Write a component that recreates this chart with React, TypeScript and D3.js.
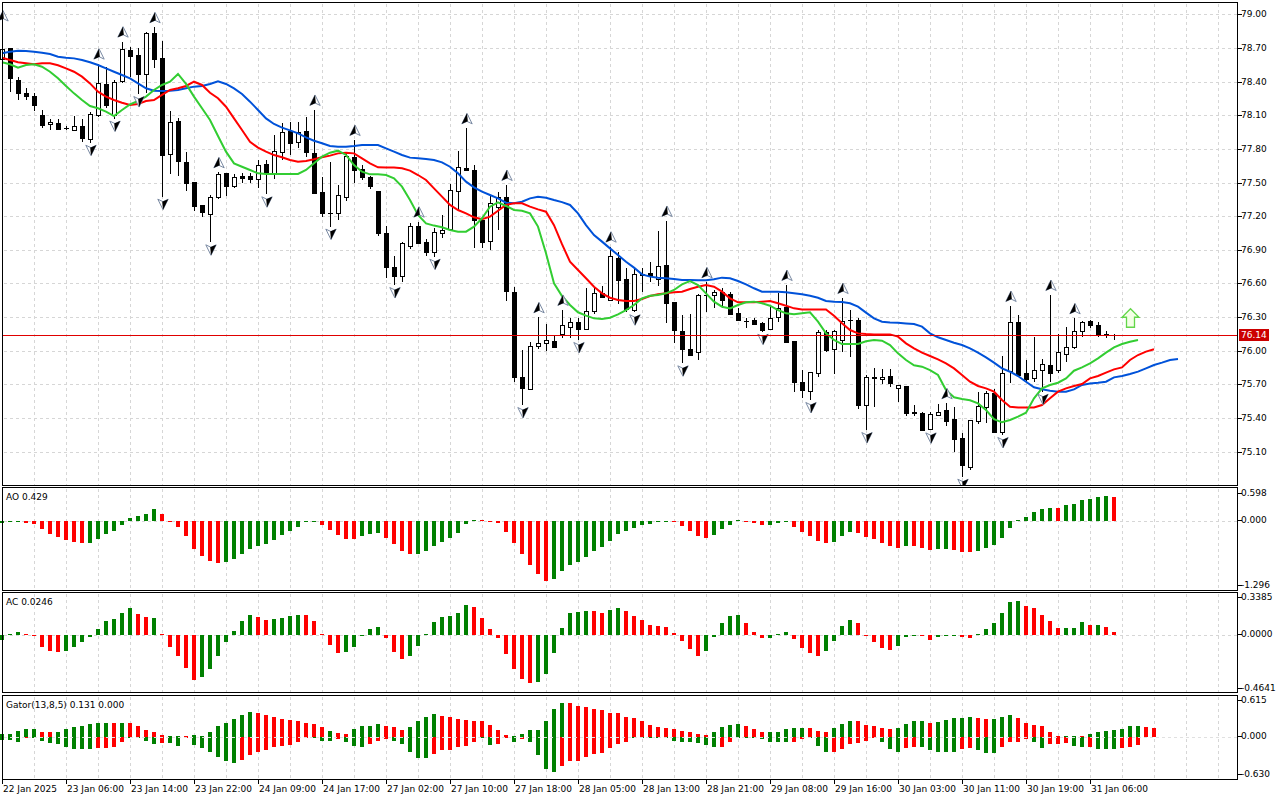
import React from "react";
import * as d3 from "d3";

// ---------- price data (H1 candles) ----------
const opens = [
  78.60,78.70,78.41,78.30,78.27,78.10,78.02,78.03,77.99,77.96,
  78.00,77.89,78.10,78.376,78.096,78.399,78.682,78.637,78.474,78.836,
  78.608,77.752,78.049,77.68,77.502,77.30,77.219,77.368,77.582,77.463,
  77.558,77.558,77.529,77.665,77.582,77.775,77.962,77.858,77.960,77.766,
  77.413,77.231,77.225,77.374,77.731,77.618,77.546,77.425,77.047,76.744,
  76.670,76.937,77.116,76.967,76.875,77.053,77.083,77.419,77.627,77.612,
  77.166,76.982,77.285,77.368,76.521,75.763,75.665,76.036,76.072,76.087,
  76.147,76.209,76.259,76.200,76.348,76.512,76.453,76.830,76.637,76.363,
  76.681,76.690,76.640,76.765,76.432,76.176,76.016,75.986,76.500,76.491,
  76.527,76.503,76.334,76.265,76.274,76.244,76.191,76.298,76.393,76.090,
  75.718,75.635,75.808,76.164,76.013,76.090,76.274,76.274,75.516,75.763,
  75.745,75.775,75.665,75.686,75.451,75.448,75.299,75.433,75.472,75.388,
  75.219,74.966,75.377,75.495,75.626,75.270,75.814,76.253,75.799,75.754,
  75.822,75.873,75.828,75.971,76.030,76.176,76.265,76.230,76.146,76.131,
];
const highs = [
  78.90,78.70,78.44,78.34,78.30,78.15,78.07,78.07,78.00,78.09,
  78.07,78.13,78.56,78.533,78.414,78.756,78.711,78.697,78.845,78.884,
  78.765,78.138,78.073,77.775,77.507,77.30,77.389,77.591,77.588,77.576,
  77.582,77.582,77.70,77.70,77.924,78.03,78.043,78.043,78.087,78.147,
  77.552,77.686,77.478,77.775,77.879,77.656,77.558,77.425,77.113,76.845,
  76.973,77.136,77.151,76.994,77.092,77.211,77.487,77.784,77.983,77.656,
  77.181,77.389,77.413,77.478,76.566,76.007,76.081,76.298,76.236,76.132,
  76.364,76.289,76.289,76.557,76.557,76.580,76.928,76.878,76.735,76.750,
  76.735,76.794,77.068,77.157,76.438,76.319,76.325,76.503,76.610,76.542,
  76.557,76.527,76.384,76.295,76.289,76.259,76.399,76.512,76.586,76.090,
  75.828,75.808,76.185,76.185,76.185,76.47,76.363,76.289,75.784,75.843,
  75.840,75.837,75.695,75.686,75.516,75.457,75.457,75.525,75.531,75.501,
  75.264,75.383,75.635,75.644,75.656,75.953,76.399,76.319,75.917,76.126,
  75.923,76.497,76.146,76.209,76.289,76.268,76.274,76.259,76.179,76.146,
];
const lows = [
  78.58,78.31,78.24,78.24,78.14,77.99,77.968,77.975,77.97,77.96,
  77.86,77.855,78.08,78.162,78.07,78.39,78.444,78.289,78.30,78.518,
  77.374,77.576,77.561,77.427,77.249,77.19,76.967,77.350,77.382,77.454,
  77.498,77.498,77.454,77.395,77.531,77.70,77.746,77.805,77.731,77.398,
  77.190,77.107,77.166,77.338,77.499,77.523,77.439,77.023,76.652,76.586,
  76.610,76.907,76.952,76.848,76.839,77.003,77.077,77.255,77.60,76.913,
  76.913,76.898,77.077,76.447,75.724,75.516,75.665,76.013,76.001,76.022,
  76.111,76.117,76.096,76.185,76.325,76.468,76.453,76.414,76.348,76.343,
  76.527,76.610,76.580,76.245,76.066,75.888,75.956,75.918,76.343,76.378,
  76.378,76.328,76.268,76.200,76.230,76.170,76.185,76.259,76.081,75.629,
  75.582,75.561,75.769,75.992,75.793,75.992,75.947,75.478,75.293,75.501,
  75.700,75.680,75.546,75.418,75.418,75.299,75.290,75.427,75.329,75.100,
  74.877,74.937,75.347,75.359,75.270,75.249,75.709,75.784,75.724,75.724,
  75.635,75.724,75.799,75.903,76.013,76.126,76.200,76.126,76.111,76.096,
];
const closes = [
  78.69,78.43,78.29,78.27,78.19,78.01,78.04,77.98,77.98,78.00,
  77.89,78.11,78.385,78.185,78.394,78.688,78.631,78.468,78.836,78.601,
  77.739,78.037,77.692,77.493,77.284,77.234,77.368,77.576,77.469,77.547,
  77.543,77.534,77.657,77.588,77.784,77.955,77.855,77.948,77.775,77.413,
  77.225,77.225,77.389,77.737,77.612,77.546,77.469,77.047,76.741,76.667,
  76.964,77.116,76.967,76.875,77.056,77.077,77.433,77.636,77.612,77.166,
  76.973,77.321,77.374,76.527,75.760,75.665,76.046,76.066,76.096,76.036,
  76.230,76.253,76.200,76.357,76.512,76.476,76.845,76.637,76.369,76.684,
  76.670,76.661,76.756,76.429,76.179,76.016,75.962,76.497,76.494,76.521,
  76.453,76.328,76.268,76.259,76.238,76.179,76.289,76.378,76.081,75.724,
  75.650,75.808,76.170,76.001,76.176,76.262,76.268,75.516,75.769,75.751,
  75.763,75.715,75.695,75.448,75.439,75.299,75.436,75.457,75.377,75.210,
  74.975,75.383,75.507,75.620,75.278,75.799,76.253,75.784,75.745,75.828,
  75.879,75.805,75.986,76.030,76.176,76.253,76.230,76.149,76.134,76.14,
];

// ---------- Alligator (already shifted forward: jaw 8, teeth 5, lips 3) ----------
const jaw = [
  78.652,78.667,78.676,78.673,78.667,78.658,78.646,78.622,78.613,78.607,
  78.593,78.572,78.548,78.518,78.488,78.459,78.429,78.384,78.340,78.319,
  78.316,78.319,78.325,78.340,78.355,78.361,78.379,78.402,78.379,78.340,
  78.289,78.221,78.147,78.072,78.022,77.990,77.965,77.939,77.903,77.873,
  77.850,77.826,77.820,77.820,77.826,77.835,77.835,77.835,77.805,77.775,
  77.746,77.722,77.716,77.710,77.701,77.680,77.641,77.582,77.508,77.457,
  77.419,77.389,77.359,77.320,77.315,77.329,77.359,77.374,77.365,77.344,
  77.325,77.300,77.225,77.121,77.032,76.973,76.913,76.854,76.794,76.741,
  76.681,76.661,76.652,76.646,76.640,76.631,76.631,76.628,76.628,76.637,
  76.652,76.646,76.622,76.592,76.557,76.527,76.527,76.527,76.521,76.512,
  76.503,76.491,76.473,76.444,76.438,76.435,76.423,76.393,76.340,76.289,
  76.259,76.253,76.250,76.244,76.238,76.215,76.155,76.120,76.096,76.072,
  76.051,76.022,75.983,75.941,75.894,75.843,75.813,75.775,75.724,75.674,
  75.656,75.644,75.635,75.635,75.656,75.695,75.709,75.715,75.724,75.763,
  75.775,75.793,75.814,75.843,75.873,75.894,75.918,75.927,
];
const teeth = [
  78.613,78.593,78.572,78.563,78.554,78.563,78.563,78.545,78.518,78.488,
  78.444,78.384,78.310,78.266,78.236,78.212,78.191,78.200,78.227,78.236,
  78.281,78.325,78.340,78.361,78.399,78.370,78.301,78.251,78.176,78.072,
  77.968,77.864,77.811,77.775,77.745,77.725,77.701,77.686,77.692,77.707,
  77.725,77.740,77.760,77.766,77.760,77.716,77.671,77.636,77.633,77.633,
  77.627,77.606,77.567,77.523,77.448,77.374,77.300,77.255,77.225,77.190,
  77.172,77.196,77.249,77.300,77.315,77.315,77.285,77.261,77.240,77.120,
  76.950,76.794,76.720,76.646,76.571,76.512,76.473,76.453,76.444,76.444,
  76.462,76.488,76.503,76.512,76.521,76.527,76.551,76.571,76.586,76.571,
  76.527,76.467,76.432,76.432,76.432,76.438,76.444,76.423,76.402,76.378,
  76.369,76.369,76.369,76.369,76.313,76.245,76.185,76.155,76.149,76.146,
  76.146,76.146,76.126,76.066,76.022,75.983,75.953,75.923,75.888,75.843,
  75.784,75.724,75.686,75.665,75.635,75.561,75.501,75.495,75.495,75.495,
  75.516,75.576,75.635,75.665,75.686,75.704,75.754,75.775,75.805,75.834,
  75.852,75.918,75.962,75.992,76.013,
];
const lips = [
  78.572,78.554,78.524,78.548,78.554,78.533,78.488,78.429,78.361,78.295,
  78.236,78.182,78.162,78.132,78.093,78.147,78.197,78.227,78.266,78.325,
  78.370,78.399,78.468,78.379,78.266,78.162,78.058,77.915,77.775,77.671,
  77.641,77.612,77.582,77.576,77.576,77.576,77.576,77.576,77.612,77.671,
  77.731,77.766,77.784,77.746,77.656,77.597,77.573,77.573,77.567,77.537,
  77.463,77.344,77.211,77.136,77.116,77.101,77.077,77.062,77.062,77.107,
  77.181,77.285,77.323,77.291,77.255,77.249,77.225,77.107,76.869,76.601,
  76.488,76.408,76.343,76.313,76.289,76.283,76.295,76.325,76.363,76.408,
  76.467,76.491,76.497,76.512,76.542,76.592,76.622,76.586,76.512,76.438,
  76.393,76.378,76.408,76.432,76.438,76.423,76.402,76.363,76.334,76.325,
  76.334,76.343,76.259,76.155,76.096,76.060,76.060,76.060,76.084,76.096,
  76.090,76.051,75.977,75.917,75.870,75.858,75.828,75.784,75.650,75.585,
  75.570,75.558,75.531,75.472,75.391,75.362,75.383,75.412,75.448,75.576,
  75.665,75.695,75.715,75.754,75.822,75.852,75.888,75.932,75.983,76.030,
  76.060,76.081,76.096,
];

// ---------- Fractals (bar indices) and signal ----------
const fractalUp = [0,12,15,19,27,39,44,52,58,63,67,70,76,83,88,98,105,118,126,131,134];
const fractalDown = [11,14,17,20,26,33,41,49,54,65,72,79,85,95,101,108,116,120,125,130];
const buySignalBar = [141];
const buySignalPrice = [76.29];
const lastPrice = 76.14;

// ---------- Awesome Oscillator ----------
const aoValues = [
  -0.04,-0.03,-0.02,-0.045,-0.06,-0.16,-0.25,-0.31,-0.37,-0.40,
  -0.42,-0.42,-0.35,-0.25,-0.20,-0.08,0.04,0.08,0.125,0.22,
  0.125,-0.005,-0.13,-0.30,-0.54,-0.68,-0.77,-0.80,-0.79,-0.73,
  -0.63,-0.54,-0.49,-0.44,-0.36,-0.28,-0.19,-0.12,-0.03,-0.02,
  -0.08,-0.17,-0.27,-0.34,-0.35,-0.30,-0.25,-0.23,-0.33,-0.45,
  -0.58,-0.63,-0.63,-0.58,-0.49,-0.40,-0.33,-0.23,-0.06,0.02,
  0.02,-0.003,-0.045,-0.215,-0.42,-0.63,-0.85,-1.01,-1.15,-1.11,
  -0.96,-0.85,-0.78,-0.69,-0.58,-0.505,-0.39,-0.25,-0.20,-0.15,
  -0.09,-0.06,-0.03,-0.015,-0.02,-0.11,-0.19,-0.30,-0.33,-0.28,
  -0.16,-0.09,0.01,-0.02,-0.045,-0.09,-0.09,-0.045,-0.03,-0.12,
  -0.215,-0.30,-0.39,-0.42,-0.40,-0.30,-0.215,-0.23,-0.315,-0.35,
  -0.42,-0.49,-0.52,-0.49,-0.49,-0.52,-0.55,-0.54,-0.54,-0.55,
  -0.595,-0.595,-0.57,-0.52,-0.46,-0.33,-0.14,0.005,0.06,0.16,
  0.21,0.23,0.23,0.29,0.31,0.385,0.40,0.44,0.46,0.45,
];
const aoDirs = "GGGRRRRRRR RGGGGGGGGG RRRRRRRRGG GGGGGGGGGG RRRRRGGGRR RRGGGGGGGG RRRRRRRRRG GGGGGGGGGG GGGGRRRRRG GGGRRRGGGR RRRRGGGRRR RRRGRRRGGR RRGGGGGGGG GGRGGGGGGR";

// ---------- Accelerator Oscillator ----------
const acValues = [
  -0.04,0.01,0.02,0.01,-0.005,-0.10,-0.135,-0.143,-0.135,-0.10,
  -0.062,-0.02,0.05,0.11,0.13,0.18,0.22,0.17,0.14,0.138,
  0.01,-0.10,-0.175,-0.27,-0.365,-0.34,-0.28,-0.175,-0.06,0.03,
  0.11,0.16,0.146,0.12,0.13,0.138,0.154,0.16,0.16,0.11,
  0.01,-0.08,-0.15,-0.143,-0.10,0.0,0.046,0.065,-0.03,-0.143,
  -0.197,-0.176,-0.095,0.01,0.10,0.146,0.154,0.18,0.243,0.227,
  0.138,0.046,-0.03,-0.157,-0.278,-0.36,-0.395,-0.386,-0.32,-0.15,
  0.054,0.18,0.186,0.195,0.19,0.18,0.203,0.216,0.195,0.154,
  0.12,0.078,0.073,0.065,0.016,-0.054,-0.116,-0.17,-0.13,-0.02,
  0.092,0.154,0.16,0.092,0.019,-0.03,-0.03,0.01,0.024,-0.035,
  -0.11,-0.15,-0.17,-0.135,-0.05,0.073,0.12,0.092,-0.014,-0.062,
  -0.11,-0.12,-0.09,-0.02,-0.003,-0.014,-0.04,-0.02,-0.003,-0.003,
  -0.02,-0.03,0.005,0.046,0.092,0.173,0.268,0.276,0.235,0.216,
  0.162,0.114,0.054,0.054,0.054,0.10,0.081,0.081,0.065,0.0246,
];
const acDirs = "GGGRRRRRGG GGGGGGGRRG RRRRRGGGGG GGRRGGGGRR RRRGGGGGRR RGGGGGGGGR RRRRRRRGGG GGGGRRGGRR RRRRRRRRGG GGGRRRGGGR RRRGGGGRRR RRGGGRRGGG RRGGGGGGRR RRRGGGRGRR";

// ---------- Gator Oscillator ----------
const gatorUpper = [
  0.040,0.040,0.091,0.111,0.121,0.076,0.061,0.076,0.111,0.142,
  0.167,0.192,0.212,0.212,0.212,0.212,0.212,0.167,0.101,0.076,
  0.025,0.015,0.015,0.015,0.025,0.005,0.076,0.167,0.212,0.268,
  0.329,0.379,0.364,0.329,0.293,0.268,0.253,0.228,0.212,0.187,
  0.142,0.091,0.051,0.040,0.111,0.152,0.152,0.187,0.162,0.142,
  0.101,0.142,0.228,0.303,0.344,0.314,0.293,0.263,0.253,0.243,
  0.238,0.182,0.101,0.025,0.010,0.040,0.101,0.101,0.243,0.415,
  0.516,0.516,0.470,0.445,0.415,0.395,0.364,0.354,0.303,0.278,
  0.228,0.177,0.142,0.126,0.111,0.086,0.061,0.040,0.025,0.061,
  0.142,0.177,0.192,0.152,0.111,0.061,0.061,0.076,0.111,0.126,
  0.126,0.126,0.091,0.076,0.126,0.192,0.243,0.228,0.177,0.167,
  0.126,0.111,0.126,0.192,0.228,0.243,0.212,0.218,0.253,0.278,
  0.278,0.293,0.278,0.263,0.263,0.303,0.319,0.278,0.212,0.177,
  0.152,0.061,0.010,0.015,0.015,0.003,0.040,0.061,0.086,0.101,
  0.116,0.152,0.152,0.145,0.131,
];
const gatorUpperDirs = "GGGGGRRGGG GGGGRGRRRR RGGRGGGGGG GGRRRRRRRR RGRRGGGGRR RGGGGRRRRR RRRRGGGGGG GRRRRRRRRR RRRRRRRRRG GGGRRRGGGG GRRRGGGRRR RRGGGGRGGG GGRRGGGRRR RRRGGRGGGG GGGRR";
const gatorLower = [
  -0.051,-0.051,-0.076,-0.010,-0.005,-0.061,-0.101,-0.116,-0.162,-0.192,
  -0.192,-0.192,-0.177,-0.177,-0.162,-0.086,-0.010,-0.010,-0.061,-0.116,
  -0.101,-0.101,-0.142,-0.025,-0.126,-0.177,-0.238,-0.314,-0.379,-0.405,
  -0.354,-0.278,-0.238,-0.202,-0.152,-0.142,-0.126,-0.091,-0.025,-0.025,
  -0.061,-0.061,-0.040,-0.076,-0.142,-0.152,-0.116,-0.061,-0.040,-0.061,
  -0.111,-0.238,-0.329,-0.329,-0.268,-0.212,-0.202,-0.152,-0.142,-0.076,
  -0.025,-0.126,-0.116,-0.025,-0.076,-0.035,-0.076,-0.278,-0.496,-0.541,
  -0.445,-0.379,-0.379,-0.314,-0.268,-0.253,-0.177,-0.111,-0.086,-0.025,
  -0.025,-0.005,-0.005,-0.025,-0.061,-0.091,-0.091,-0.105,-0.126,-0.162,
  -0.152,-0.076,-0.010,-0.005,-0.005,-0.035,-0.076,-0.091,-0.091,-0.076,
  -0.040,-0.025,-0.137,-0.238,-0.228,-0.187,-0.116,-0.101,-0.061,-0.025,
  -0.086,-0.192,-0.228,-0.177,-0.162,-0.162,-0.202,-0.228,-0.238,-0.238,
  -0.192,-0.177,-0.202,-0.253,-0.253,-0.162,-0.086,-0.076,-0.040,-0.086,
  -0.177,-0.116,-0.116,-0.101,-0.142,-0.162,-0.152,-0.187,-0.187,-0.192,
  -0.177,-0.152,-0.126,
];
const gatorLowerDirs = "GGGRGGGGGG GGRRRRGGGG RGGRGGGGGG RRRRRRRRRG GGRGGGRRRG GGGGRRRRRR GGRRGRGGGG RRRRRRRRRG GGGGGGGGGG RRGGGGGGGR RGGGRRRRRR GGGRRGGGGG RRGGGRRRRG GRRRGGRGGG RRR";

// ---------- axes ----------
const priceTicks = [79.0,78.7,78.4,78.1,77.8,77.5,77.2,76.9,76.6,76.3,76.0,75.7,75.4,75.1];
const timeLabels = [
  "22 Jan 2025","23 Jan 06:00","23 Jan 14:00","23 Jan 22:00","24 Jan 09:00","24 Jan 17:00",
  "27 Jan 02:00","27 Jan 10:00","27 Jan 18:00","28 Jan 05:00","28 Jan 13:00","28 Jan 21:00",
  "29 Jan 08:00","29 Jan 16:00","30 Jan 03:00","30 Jan 11:00","30 Jan 19:00","31 Jan 06:00",
];
const aoAxis = [0.598, 0.0, -1.296];
const aoAxisText = ["0.598", "0.000", "-1.296"];
const acAxis = [0.3385, 0.0, -0.4641];
const acAxisText = ["0.3385", "0.0000", "-0.4641"];
const gatorAxis = [0.615, 0.0, -0.63];
const gatorAxisText = ["0.615", "0.000", "-0.630"];
const panelTitles = ["AO 0.429", "AC 0.0246", "Gator(13,8,5) 0.131 0.000"];

const FONT = "'DejaVu Sans', Verdana, sans-serif";
const GRID = "#d6d6d6";
const UPC = "#008000";
const DNC = "#ff0000";

function dirs(s: string) {
  return s.replace(/ /g, "").split("");
}

export default function App() {
  const x = d3.scaleLinear().domain([0, 139]).range([2, 1114]);
  const y = d3.scaleLinear().domain([75.1, 79.0]).range([451.7, 14.3]);
  const yAO = d3.scaleLinear().domain([-1.296, 0.598]).range([589, 489]);
  const yAC = d3.scaleLinear().domain([-0.4641, 0.3385]).range([692, 593]);
  const yG = d3.scaleLinear().domain([-0.63, 0.615]).range([778, 696]);

  const L = 2.5, R = 1237.5;
  const panels = [
    { top: 2.5, bottom: 485.5 },
    { top: 487.5, bottom: 590.5 },
    { top: 592.5, bottom: 692.5 },
    { top: 695.5, bottom: 779.5 },
  ];
  const vgrid = d3.range(4, 153, 4).map((k) => Math.round(x(k)) + 0.5);

  const mkLine = (arr: number[]) =>
    d3.line<number>().x((_, i) => x(i)).y((d) => y(d)).curve(d3.curveLinear)(arr) || "";

  const aoD = dirs(aoDirs), acD = dirs(acDirs), guD = dirs(gatorUpperDirs), glD = dirs(gatorLowerDirs);

  const hist = (vals: number[], ds: string[], sc: d3.ScaleLinear<number, number>, key: string) =>
    vals.map((v, i) => {
      const y0 = sc(0), y1 = sc(v);
      const top = Math.min(y0, y1);
      const h = Math.max(1, Math.abs(y1 - y0));
      return (
        <rect key={key + i} x={Math.round(x(i)) - 2} y={top} width={4} height={h}
          fill={ds[i] === "G" ? UPC : DNC} shapeRendering="crispEdges" />
      );
    });

  const axisBlock = (vals: number[], texts: string[], sc: d3.ScaleLinear<number, number>, key: string) =>
    vals.map((v, i) => {
      const off = i === 0 ? 4 : i === 1 ? -0.5 : -4.5;
      const yy = sc(v) + off;
      return (
        <g key={key + i}>
          <line x1={R} x2={R + 4} y1={Math.round(yy) + 0.5} y2={Math.round(yy) + 0.5} stroke="#000" shapeRendering="crispEdges" />
          <text x={1241} y={yy} fontSize={9} dominantBaseline="central" fill="#000">{texts[i]}</text>
        </g>
      );
    });

  const upMarker = (cx: number, cy: number, key: string) => (
    <g key={key}>
      <path d={`M${cx},${cy - 5.5} L${cx + 5.2},${cy + 5} L${cx},${cy + 2.5} L${cx - 5.2},${cy + 5} Z`} fill="#fff" stroke="#7a8aa3" strokeWidth={1} />
      <path d={`M${cx},${cy - 5.5} L${cx + 0.8},${cy + 2.5} L${cx - 5.2},${cy + 5} Z`} fill="#000" />
    </g>
  );
  const downMarker = (cx: number, cy: number, key: string) => (
    <g key={key}>
      <path d={`M${cx},${cy + 5.5} L${cx + 5.2},${cy - 5} L${cx},${cy - 2.5} L${cx - 5.2},${cy - 5} Z`} fill="#fff" stroke="#7a8aa3" strokeWidth={1} />
      <path d={`M${cx},${cy + 5.5} L${cx - 0.8},${cy - 2.5} L${cx + 5.2},${cy - 5} Z`} fill="#000" />
    </g>
  );

  const yLast = Math.round(y(lastPrice)) + 0.5;

  return (
    <div style={{ position: "absolute", left: 0, top: 0, width: 1280, height: 800, background: "#fff" }}>
      <svg width={1280} height={800} style={{ display: "block" }} fontFamily={FONT}>
        <defs>
          <clipPath id="mainClip">
            <rect x={0} y={3} width={1234.5} height={482} />
          </clipPath>
        </defs>
        <rect x={0} y={0} width={1280} height={800} fill="#fff" />

        {/* vertical grid */}
        {panels.map((p, pi) =>
          vgrid.map((gx, gi) => (
            <line key={`vg${pi}-${gi}`} x1={gx} x2={gx} y1={p.top + 1} y2={p.bottom - 1}
              stroke={GRID} strokeDasharray="3,3" shapeRendering="crispEdges" />
          ))
        )}
        {/* horizontal price grid */}
        {priceTicks.map((p, i) => (
          <line key={`hg${i}`} x1={L + 1} x2={R - 1} y1={Math.round(y(p)) + 0.5} y2={Math.round(y(p)) + 0.5}
            stroke={GRID} strokeDasharray="3,3" shapeRendering="crispEdges" />
        ))}
        {/* subpanel zero lines */}
        {[yAO, yAC].map((sc, i) => (
          <line key={`z${i}`} x1={L + 1} x2={R - 1} y1={Math.round(sc(0)) + 0.5} y2={Math.round(sc(0)) + 0.5}
            stroke={GRID} strokeDasharray="3,3" shapeRendering="crispEdges" />
        ))}

        {/* main chart */}
        <g clipPath="url(#mainClip)">
          {closes.map((c, i) => {
            const o = opens[i];
            const cx = Math.round(x(i));
            const yTop = y(Math.max(o, c));
            const yBot = y(Math.min(o, c));
            const bull = c >= o;
            const bh = yBot - yTop;
            return (
              <g key={`c${i}`} shapeRendering="crispEdges">
                <line x1={cx + 0.5} x2={cx + 0.5} y1={y(highs[i])} y2={y(lows[i])} stroke="#000" />
                {bh < 1.2 ? (
                  <line x1={cx - 2} x2={cx + 3} y1={Math.round(yTop) + 0.5} y2={Math.round(yTop) + 0.5} stroke="#000" />
                ) : (
                  <rect x={cx - 1.5} y={Math.round(yTop) + 0.5} width={4} height={Math.max(1, Math.round(bh))}
                    fill={bull ? "#fff" : "#000"} stroke="#000" />
                )}
              </g>
            );
          })}
          <path d={mkLine(jaw)} fill="none" stroke="#0052d9" strokeWidth={2} />
          <path d={mkLine(teeth)} fill="none" stroke="#ff0000" strokeWidth={2} />
          <path d={mkLine(lips)} fill="none" stroke="#32cd32" strokeWidth={2} />
          {fractalUp.map((k) => upMarker(Math.round(x(k)) + 1, y(highs[k]) - 9.5, `fu${k}`))}
          {fractalDown.map((k) => downMarker(Math.round(x(k)) + 1, y(lows[k]) + 7.5, `fd${k}`))}
          {buySignalBar.map((k, i) => {
            const cx = x(k) + 0.5, cy = y(buySignalPrice[i]);
            return (
              <path key={`bs${i}`}
                d={`M${cx - 4},${cy + 9} L${cx - 4},${cy - 1} L${cx - 8.5},${cy - 1} L${cx},${cy - 9.5} L${cx + 8.5},${cy - 1} L${cx + 4},${cy - 1} L${cx + 4},${cy + 9} Z`}
                fill="#f3ffe6" stroke="#62d648" strokeWidth={1.3} />
            );
          })}
        </g>
        {/* current price line */}
        <rect x={L + 0.5} y={yLast - 0.5} width={R - L - 0.5} height={1} fill="#e00000" />

        {/* AO */}
        {hist(aoValues, aoD, yAO, "ao")}
        {/* AC */}
        {hist(acValues, acD, yAC, "ac")}
        {/* Gator */}
        {hist(gatorUpper, guD, yG, "gu")}
        {hist(gatorLower, glD, yG, "gl")}
        <line x1={L + 1} x2={R - 1} y1={Math.round(yG(0)) + 0.5} y2={Math.round(yG(0)) + 0.5}
          stroke="#e0e0e0" strokeDasharray="3,3" shapeRendering="crispEdges" />

        {/* panel frames */}
        {panels.map((p, i) => (
          <rect key={`pf${i}`} x={L} y={p.top} width={R - L} height={p.bottom - p.top}
            fill="none" stroke="#000" shapeRendering="crispEdges" />
        ))}

        {/* price axis */}
        {priceTicks.map((p, i) => (
          <g key={`pt${i}`}>
            <line x1={R} x2={R + 4} y1={Math.round(y(p)) + 0.5} y2={Math.round(y(p)) + 0.5} stroke="#000" shapeRendering="crispEdges" />
            <text x={1241} y={y(p)} fontSize={9} dominantBaseline="central" fill="#000">{p.toFixed(2)}</text>
          </g>
        ))}
        <rect x={1239} y={yLast - 6.5} width={30} height={12} fill="#cc0000" />
        <text x={1241} y={yLast - 0.5} fontSize={9} dominantBaseline="central" fill="#fff">{lastPrice.toFixed(2)}</text>

        {axisBlock(aoAxis, aoAxisText, yAO, "aoa")}
        {axisBlock(acAxis, acAxisText, yAC, "aca")}
        {axisBlock(gatorAxis, gatorAxisText, yG, "ga")}

        {/* panel titles */}
        {panelTitles.map((t, i) => (
          <text key={`tt${i}`} x={6} y={panels[i + 1].top + 9} fontSize={9} dominantBaseline="central" fill="#000">{t}</text>
        ))}

        {/* time axis */}
        {timeLabels.map((t, j) => {
          const tx = Math.round(x(8 * j)) + 0.5;
          return (
            <g key={`tl${j}`}>
              <line x1={tx} x2={tx} y1={779.5} y2={784} stroke="#000" shapeRendering="crispEdges" />
              <text x={tx + 0.5} y={789} fontSize={9} dominantBaseline="central" fill="#000">{t}</text>
            </g>
          );
        })}
      </svg>
    </div>
  );
}
